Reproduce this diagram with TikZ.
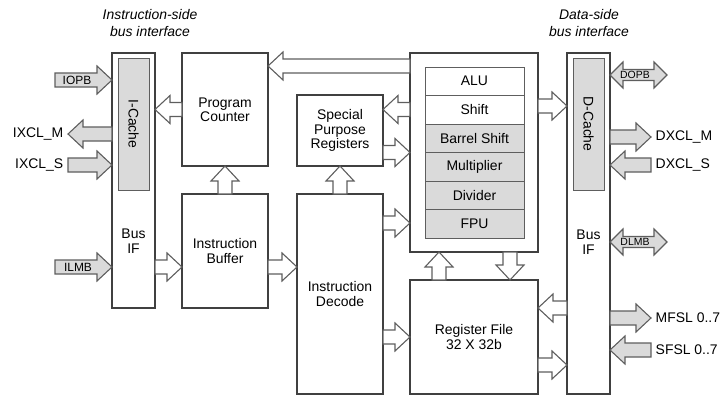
\documentclass[tikz,border=0pt]{standalone}
\usepackage{fontspec}
\setmainfont{Liberation Sans}
\usepackage{tikz}
\usetikzlibrary{calc}
\definecolor{boxline}{HTML}{404040}
\definecolor{arrline}{HTML}{5E5E5E}
\definecolor{unitfill}{HTML}{DADADA}
\tikzset{
  blk/.style={draw=boxline,line width=1.3bp,minimum width=86bp,inner sep=0pt,outer sep=0pt,align=center,font=\fontsize{14}{14.5}\selectfont},
  unit/.style={draw=arrline,line width=1bp,fill=unitfill,minimum width=99bp,minimum height=28.5bp,inner sep=0pt,outer sep=0pt,font=\fontsize{14}{14.5}\selectfont},
  cache/.style={draw=arrline,line width=1bp,fill=unitfill,minimum width=31bp,minimum height=132bp,inner sep=0pt,outer sep=0pt,font=\fontsize{14}{14.5}\selectfont},
  ext/.style={inner sep=4.5bp,font=\fontsize{14}{14.5}\selectfont},
  hol/.style={draw=arrline,fill=white,line width=1.1bp,line join=miter,to path={
    let \p1=($(\tikztotarget)!15bp!(\tikztostart)$) in
    ($(\tikztostart)!7bp!90:(\tikztotarget)$) -- ($(\p1)!7bp!90:(\tikztotarget)$) -- ($(\p1)!14bp!90:(\tikztotarget)$) -- (\tikztotarget)
    -- ($(\p1)!14bp!-90:(\tikztotarget)$) -- ($(\p1)!7bp!-90:(\tikztotarget)$) -- ($(\tikztostart)!7bp!-90:(\tikztotarget)$) -- cycle}},
  gar/.style={hol,fill=unitfill},
  dar/.style={draw=arrline,fill=unitfill,line width=1.1bp,to path={
    let \p1=($(\tikztotarget)!13bp!(\tikztostart)$), \p2=($(\tikztostart)!13bp!(\tikztotarget)$) in
    (\tikztostart) -- ($(\p2)!13bp!90:(\tikztotarget)$) -- ($(\p2)!5.5bp!90:(\tikztotarget)$) -- ($(\p1)!5.5bp!90:(\tikztotarget)$) -- ($(\p1)!13bp!90:(\tikztotarget)$) -- (\tikztotarget)
    -- ($(\p1)!13bp!-90:(\tikztotarget)$) -- ($(\p1)!5.5bp!-90:(\tikztotarget)$) -- ($(\p2)!5.5bp!-90:(\tikztotarget)$) -- ($(\p2)!13bp!-90:(\tikztotarget)$) -- cycle}}
}
\begin{document}
\begin{tikzpicture}[x=1bp,y=1bp]
\useasboundingbox (0bp,0bp) rectangle (724bp,-396bp);
\node (ihead) at (150bp,-23bp)[align=center,font=\fontsize{14}{17}\selectfont\itshape] {Instruction-side\\bus interface};
\node (dhead) at (589bp,-23bp)[align=center,font=\fontsize{14}{17}\selectfont\itshape] {Data-side\\bus interface};
\node (busL) at (133.5bp,-180.5bp)[blk,minimum width=43bp,minimum height=255bp] {};
\node (icache) at (133.5bp,-124bp)[cache] {\rotatebox{-90}{I-Cache}};
\node (busLtxt) at (133.5bp,-241bp)[blk,draw=none] {Bus\\IF};
\node (pc) at (225bp,-109.5bp)[blk,minimum height=113bp] {Program\\Counter};
\node (ib) at (225bp,-251bp)[blk,minimum height=114bp] {Instruction\\Buffer};
\node (spr) at (340bp,-130.5bp)[blk,minimum height=71bp] {Special\\Purpose\\Registers};
\node (idec) at (340bp,-294bp)[blk,minimum height=200bp] {Instruction\\Decode};
\node (exe) at (474bp,-152.5bp)[blk,minimum width=128bp,minimum height=199bp] {};
\node (alu) at (474.5bp,-81.25bp)[unit,fill=white] {ALU};
\node (shift) at (474.5bp,-109.75bp)[unit,fill=white] {Shift};
\node (bshift) at (474.5bp,-138.25bp)[unit] {Barrel Shift};
\node (mult) at (474.5bp,-166.75bp)[unit] {Multiplier};
\node (div) at (474.5bp,-195.25bp)[unit] {Divider};
\node (fpu) at (474.5bp,-223.75bp)[unit] {FPU};
\node (regf) at (474bp,-337bp)[blk,minimum width=128bp,minimum height=114bp] {Register File\\32 X 32b};
\node (busR) at (588.5bp,-223.5bp)[blk,minimum width=43bp,minimum height=341bp] {};
\node (dcache) at (588.5bp,-124bp)[cache] {\rotatebox{-90}{D-Cache}};
\node (busRtxt) at (588.5bp,-242bp)[blk,draw=none] {Bus\\IF};
\coordinate (iopb) at (55bp,-80bp);
\coordinate (ilmb) at (55bp,-267bp);
\coordinate (dopb) at (667bp,-75bp);
\coordinate (dlmb) at (667bp,-242bp);
\draw [hol] ([yshift=-13bp]exe.north west) to ([yshift=-13bp]pc.north east);
\draw [hol] (pc.west) to (busL.east |- pc.west);
\draw [hol] (ib.north) to (pc.south);
\draw [hol] (busL.east |- ilmb) to (ib.west |- ilmb);
\draw [hol] (ib.east |- ilmb) to (idec.west |- ilmb);
\draw [hol] (idec.north) to (spr.south);
\draw [hol] (exe.west |- pc.west) to (spr.east |- pc.west);
\draw [hol] (spr.east |- exe.west) to (exe.west);
\draw [hol] ([yshift=-29bp]idec.north east) to ([yshift=29bp]exe.south west);
\draw [hol] (idec.east |- regf.west) to (regf.west);
\draw [hol] ([xshift=29bp]regf.north west) to ([xshift=29bp]exe.south west);
\draw [hol] ([xshift=-28bp]exe.south east) to ([xshift=-28bp]regf.north east);
\draw [hol] ([yshift=-53bp]exe.north east) to ([yshift=-53bp]busR.north west);
\draw [hol] ([yshift=86bp]busR.south west) to ([yshift=86bp]regf.south east);
\draw [hol] ([yshift=29bp]regf.south east) to ([yshift=29bp]busR.south west);
\node (ixclm) at (68bp,-134bp)[ext,anchor=east] {IXCL\_M};
\node (ixcls) at (68bp,-165bp)[ext,anchor=east] {IXCL\_S};
\node (dxclm) at (651bp,-137bp)[ext,anchor=west] {DXCL\_M};
\node (dxcls) at (651bp,-165bp)[ext,anchor=west] {DXCL\_S};
\node (mfsl) at (651bp,-318bp)[ext,anchor=west] {MFSL 0..7};
\node (sfsl) at (651bp,-350bp)[ext,anchor=west] {SFSL 0..7};
\draw [gar] (iopb) to (busL.west |- iopb);
\draw [gar] (busL.west |- ixclm) to (ixclm.east);
\draw [gar] (ixcls.east) to (busL.west |- ixcls);
\draw [gar] (ilmb) to (busL.west |- ilmb);
\draw [dar] (busR.east |- dopb) to (dopb);
\draw [gar] (busR.east |- dxclm) to (dxclm.west);
\draw [gar] (dxcls.west) to (busR.east |- dxcls);
\draw [dar] (busR.east |- dlmb) to (dlmb);
\draw [gar] (busR.east |- mfsl) to (mfsl.west);
\draw [gar] (sfsl.west) to (busR.east |- sfsl);
\node (iopbtxt) at (77bp,-80bp)[font=\fontsize{12}{12}\selectfont,inner sep=0pt] {IOPB};
\node (ilmbtxt) at (78bp,-267bp)[font=\fontsize{12}{12}\selectfont,inner sep=0pt] {ILMB};
\node (dopbtxt) at (635bp,-75bp)[font=\fontsize{10.5}{10.5}\selectfont,inner sep=0pt] {DOPB};
\node (dlmbtxt) at (635bp,-242bp)[font=\fontsize{10.5}{10.5}\selectfont,inner sep=0pt] {DLMB};
\end{tikzpicture}
\end{document}
